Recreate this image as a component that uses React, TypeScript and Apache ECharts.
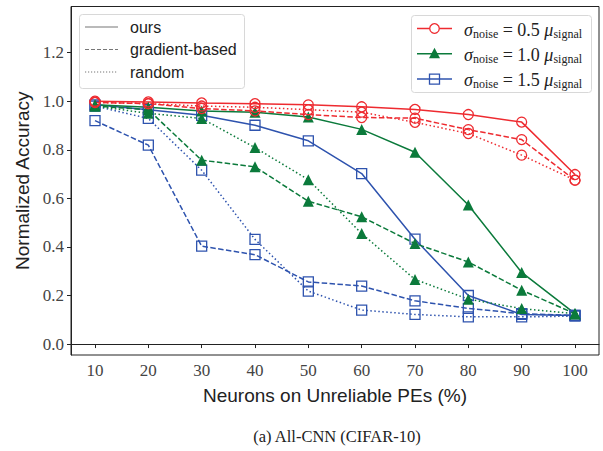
import React, { useEffect, useRef } from "react";
import * as echarts from "echarts";

const xValues = [10, 20, 30, 40, 50, 60, 70, 80, 90, 100];
const yTicks = [0, 0.2, 0.4, 0.6, 0.8, 1.0, 1.2];

// sigma_noise = 0.5 mu_signal (red)
const red_ours = [1.0, 0.997, 0.993, 0.99, 0.985, 0.977, 0.966, 0.945, 0.914, 0.698];
const red_grad = [0.995, 0.99, 0.97, 0.96, 0.945, 0.933, 0.93, 0.883, 0.842, 0.675];
const red_rand = [0.995, 0.99, 0.98, 0.975, 0.965, 0.955, 0.913, 0.867, 0.778, 0.675];
// sigma_noise = 1.0 mu_signal (green)
const green_ours = [0.985, 0.975, 0.96, 0.955, 0.935, 0.884, 0.79, 0.573, 0.295, 0.125];
const green_grad = [0.98, 0.965, 0.757, 0.73, 0.588, 0.524, 0.414, 0.338, 0.222, 0.125];
const green_rand = [0.98, 0.95, 0.929, 0.809, 0.677, 0.455, 0.266, 0.185, 0.146, 0.125];
// sigma_noise = 1.5 mu_signal (blue)
const blue_ours = [0.985, 0.965, 0.942, 0.901, 0.837, 0.702, 0.432, 0.2, 0.122, 0.118];
const blue_grad = [0.92, 0.819, 0.403, 0.368, 0.256, 0.239, 0.178, 0.147, 0.125, 0.118];
const blue_rand = [0.98, 0.929, 0.716, 0.431, 0.218, 0.14, 0.122, 0.112, 0.112, 0.115];

const styleNames = ["ours", "gradient-based", "random"];
const noiseLabels = ["0.5", "1.0", "1.5"];

const RED = "#ee2b30";
const GREEN = "#0b7a3b";
const BLUE = "#2e53ae";

const DASH = [5.5, 2.4];
const DOT = [1.5, 2.5];

export default function App() {
  const ref = useRef<HTMLDivElement>(null);
  useEffect(() => {
    if (!ref.current) return;
    const chart = echarts.init(ref.current, undefined, { renderer: "svg" });

    const mk = (
      data: number[],
      color: string,
      type: any,
      symbol: string,
      filled: boolean
    ) => ({
      type: "line",
      data: xValues.map((x, i) => [x, data[i]]),
      symbol,
      symbolSize: symbol === "triangle" ? 11 : 10,
      showSymbol: true,
      lineStyle: { color, width: 1.5, type },
      itemStyle: filled
        ? { color, borderColor: color, borderWidth: 0 }
        : { color: "rgba(0,0,0,0)", borderColor: color, borderWidth: 1.3 },
      emphasis: { disabled: true },
      z: 2,
    });

    const series = [
      mk(blue_ours, BLUE, "solid", "rect", false),
      mk(blue_grad, BLUE, DASH, "rect", false),
      mk(blue_rand, BLUE, DOT, "rect", false),
      mk(green_ours, GREEN, "solid", "triangle", true),
      mk(green_grad, GREEN, DASH, "triangle", true),
      mk(green_rand, GREEN, DOT, "triangle", true),
      mk(red_ours, RED, "solid", "circle", false),
      mk(red_grad, RED, DASH, "circle", false),
      mk(red_rand, RED, DOT, "circle", false),
    ];

    const leftLegend: any[] = [
      {
        type: "rect",
        shape: { x: 79.5, y: 14.5, width: 165, height: 74, r: 3 },
        style: { fill: "rgba(255,255,255,0.85)", stroke: "#d8d8d8", lineWidth: 1 },
        z: 10,
      },
    ];
    styleNames.forEach((n, i) => {
      const y = 27 + i * 22.5;
      leftLegend.push({
        type: "line",
        shape: { x1: 85, y1: y, x2: 118, y2: y },
        style: { stroke: "#777", lineWidth: 1.2, lineDash: i === 0 ? null : i === 1 ? [4, 2] : [1.2, 1.8] },
        z: 11,
      });
      leftLegend.push({
        type: "text",
        x: 130,
        y,
        style: {
          text: n,
          fill: "#222",
          font: "16px 'Liberation Sans', Arial, sans-serif",
          verticalAlign: "middle",
        },
        z: 11,
      });
    });

    const colors = [RED, GREEN, BLUE];
    const rightLegend: any[] = [
      {
        type: "rect",
        shape: { x: 411.5, y: 15.5, width: 180, height: 77, r: 3 },
        style: { fill: "rgba(255,255,255,0.85)", stroke: "#d8d8d8", lineWidth: 1 },
        z: 10,
      },
    ];
    noiseLabels.forEach((lab, i) => {
      const y = 28.5 + i * 25.3;
      const c = colors[i];
      rightLegend.push({
        type: "line",
        shape: { x1: 417, y1: y, x2: 452, y2: y },
        style: { stroke: c, lineWidth: 1.5 },
        z: 11,
      });
      if (i === 0) {
        rightLegend.push({
          type: "circle",
          shape: { cx: 434.5, cy: y, r: 4.8 },
          style: { fill: "#fff", stroke: c, lineWidth: 1.3 },
          z: 12,
        });
      } else if (i === 1) {
        rightLegend.push({
          type: "polygon",
          shape: { points: [[434.5, y - 6], [440, y + 4.5], [429, y + 4.5]] },
          style: { fill: c },
          z: 12,
        });
      } else {
        rightLegend.push({
          type: "rect",
          shape: { x: 429.5, y: y - 5, width: 10, height: 10 },
          style: { fill: "rgba(0,0,0,0)", stroke: c, lineWidth: 1.3 },
          z: 12,
        });
      }
      rightLegend.push({
        type: "text",
        x: 464,
        y: y + 1,
        style: {
          text: `{s|σ}{sub|noise}{n| = ${lab} }{s|μ}{sub|signal}`,
          verticalAlign: "middle",
          rich: {
            s: { font: "italic 18px 'Liberation Serif', serif", fill: "#222" },
            n: { font: "18px 'Liberation Serif', serif", fill: "#222" },
            sub: {
              font: "12px 'Liberation Serif', serif",
              fill: "#222",
              padding: [8, 0, 0, 0],
            },
          },
        },
        z: 11,
      });
    });

    const option: any = {
      animation: false,
      backgroundColor: "#fff",
      grid: {
        left: 71,
        right: 4,
        top: 6.5,
        bottom: 96,
        show: true,
        borderColor: "#222",
        borderWidth: 1,
        backgroundColor: "transparent",
      },
      xAxis: {
        type: "value",
        min: 5.5,
        max: 104.5,
        name: "Neurons on Unreliable PEs (%)",
        nameLocation: "middle",
        nameGap: 31,
        nameTextStyle: {
          fontFamily: "'Liberation Sans', Arial, sans-serif",
          fontSize: 19,
          color: "#222",
        },
        axisLine: { show: true, lineStyle: { color: "#222", width: 1 } },
        axisTick: {
          show: true,
          inside: false,
          length: 4,
          customValues: xValues,
          lineStyle: { color: "#222" },
        },
        axisLabel: {
          customValues: xValues,
          margin: 7,
          fontFamily: "'Liberation Serif', serif",
          fontSize: 17,
          color: "#444",
        },
        splitLine: { show: false },
      },
      yAxis: {
        type: "value",
        min: -0.045,
        max: 1.39,
        name: "Normalized Accuracy",
        nameLocation: "middle",
        nameGap: 33,
        nameTextStyle: {
          fontFamily: "'Liberation Sans', Arial, sans-serif",
          fontSize: 19,
          color: "#222",
        },
        axisLine: { show: true, lineStyle: { color: "#222", width: 1 } },
        axisTick: {
          show: true,
          inside: false,
          length: 4,
          customValues: yTicks,
          lineStyle: { color: "#222" },
        },
        axisLabel: {
          customValues: yTicks,
          margin: 7,
          formatter: (v: number) => v.toFixed(1),
          fontFamily: "'Liberation Serif', serif",
          fontSize: 17,
          color: "#444",
        },
        splitLine: { show: false },
      },
      series,
      graphic: [
        ...leftLegend,
        ...rightLegend,
        {
          type: "text",
          x: 337,
          y: 436,
          style: {
            text: "(a) All-CNN (CIFAR-10)",
            font: "16.5px 'Liberation Serif', serif",
            fill: "#222",
            align: "center",
            verticalAlign: "middle",
          },
        },
      ],
    };
    chart.setOption(option);
    return () => chart.dispose();
  }, []);
  return (
    <div
      ref={ref}
      style={{ position: "fixed", left: 0, top: 0, width: 603, height: 451, background: "#fff" }}
    />
  );
}
